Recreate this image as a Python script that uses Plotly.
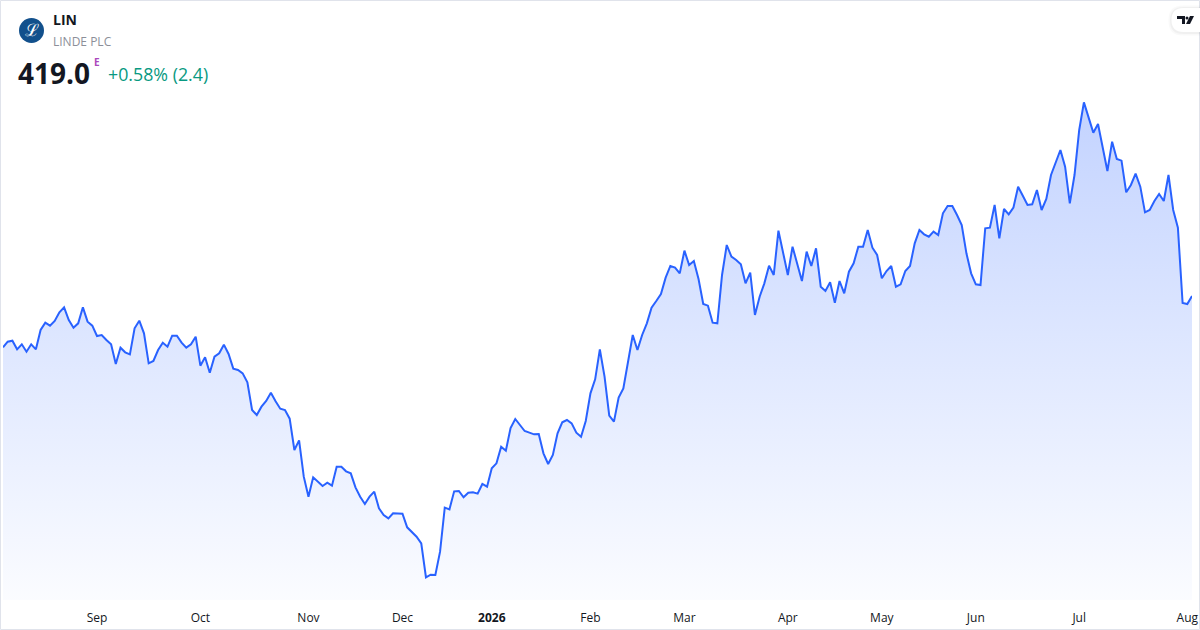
import plotly.graph_objects as go

# ---- data ----
prices = [
    403.6, 405.3, 405.6, 403.0, 404.5, 402.3, 404.5, 403.0, 408.8, 411.0,
    410.1, 411.5, 414.1, 415.6, 411.8, 409.5, 410.8, 415.6, 411.3, 410.1,
    407.0, 407.3, 405.8, 404.5, 398.6, 403.5, 402.1, 401.5, 409.3, 411.6,
    407.8, 398.8, 399.5, 402.8, 405.0, 403.8, 407.1, 407.1, 405.0, 403.5,
    404.5, 406.8, 398.1,
    400.6, 396.0, 400.8, 401.8, 404.4, 401.6, 397.2, 396.8, 395.8, 393.1,
    384.8, 383.3, 385.8, 387.5, 390.0, 387.4, 385.2, 384.8, 382.2, 372.8,
    375.7, 364.8, 358.8, 364.6, 363.3, 362.0, 363.0, 362.1, 367.8, 367.8,
    366.4, 365.8, 361.6, 358.8, 356.6, 358.8, 360.3, 355.3, 353.3, 352.3,
    353.8, 353.7, 353.7,
    349.6, 348.3, 346.8, 344.8, 334.6, 335.4, 335.3, 342.3, 355.5, 355.0,
    360.4, 360.5, 358.6, 360.0, 360.1, 359.7, 362.6, 361.8, 367.3, 368.8,
    373.8, 372.6, 379.4, 382.1, 380.3, 378.5, 378.0, 377.5, 377.6, 371.8,
    368.6, 371.3, 377.8, 381.1, 381.8, 380.8, 378.0, 376.8, 381.5, 389.8,
    394.0, 403.0, 394.8,
    383.1, 381.3, 388.5, 391.3, 399.3, 407.3, 402.8, 407.3, 410.8, 415.5,
    417.5, 419.6, 424.5, 428.0, 427.5, 425.8, 432.6, 428.3, 429.5, 424.1,
    416.6, 416.1, 411.0, 410.8, 425.3, 434.3, 430.8, 429.8, 428.5, 422.8,
    426.0, 413.3, 418.8, 422.8, 428.1, 425.3, 438.6, 431.8, 425.3, 433.8,
    428.8, 423.5,
    432.3, 428.0, 433.3, 421.8, 420.5, 423.1, 417.0, 423.5, 419.8, 426.3,
    428.8, 433.8, 433.8, 438.8, 433.5, 431.3, 424.3, 426.5, 428.0, 421.8,
    422.5, 426.5, 428.0, 434.8, 438.8, 437.5, 436.8, 438.3, 437.3, 443.8,
    446.0, 446.0, 443.3, 440.3, 431.8, 425.8, 422.5, 422.3, 439.3, 439.5,
    446.3, 436.3, 445.1,
    443.5, 445.5, 451.8, 449.1, 446.3, 446.5, 450.8, 444.8, 448.1, 455.3,
    459.3, 462.8, 457.8, 446.8, 455.3, 468.8, 477.1, 472.5, 468.0, 470.6,
    463.8, 456.5, 465.3, 460.1, 459.6, 450.1, 452.3, 455.7, 451.8, 444.1,
    444.8, 447.5, 449.6, 447.5, 455.3, 444.8, 439.5, 416.9, 416.6, 419.0,
]
day_index = list(range(len(prices)))

# first trading session of each month (index into prices) and its label
month_start_index = [20, 42, 65, 85, 104, 125, 145, 167, 187, 207, 229, 252]
month_labels = ["Sep", "Oct", "Nov", "Dec", "<b>2026</b>", "Feb", "Mar",
                "Apr", "May", "Jun", "Jul", "Aug"]

ticker = "LIN"
company = "LINDE PLC"
last_price = "419.0"
change_text = "+0.58% (2.4)"

# ---- layout geometry ----
W, H = 1200, 630
ML, MR, MT, MB = 3, 8, 0, 30
PW, PH = W - ML - MR, H - MT - MB


def px(x):
    return (x - ML) / PW


def py(y):
    return (H - MB - y) / PH


def rounded_left_tab(x0, y0, x1, y1, r):
    return (f"M {px(x1)},{py(y0)} L {px(x0 + r)},{py(y0)} "
            f"Q {px(x0)},{py(y0)} {px(x0)},{py(y0 + r)} "
            f"L {px(x0)},{py(y1 - r)} Q {px(x0)},{py(y1)} {px(x0 + r)},{py(y1)} "
            f"L {px(x1)},{py(y1)} Z")


LINE = "#2962FF"
y_lo, y_hi = 327.8, 507.8

fig = go.Figure()
fig.add_trace(go.Scatter(
    x=day_index, y=prices, mode="lines",
    line=dict(color=LINE, width=2),
    fill="tozeroy",
    fillgradient=dict(
        type="vertical",
        start=y_lo, stop=max(prices),
        colorscale=[[0, "rgba(41,98,255,0.02)"], [1, "rgba(41,98,255,0.28)"]],
    ),
    hoverinfo="skip", showlegend=False,
))

shapes = []
# card border
shapes.append(dict(type="rect", xref="paper", yref="paper",
                   x0=px(0.5), x1=px(1199.5), y0=py(629.5), y1=py(0.5),
                   line=dict(color="#E0E3EB", width=1), fillcolor="rgba(0,0,0,0)",
                   layer="above"))
# logo circle
shapes.append(dict(type="circle", xref="paper", yref="paper",
                   x0=px(19), x1=px(44), y0=py(43), y1=py(18),
                   line=dict(width=0), fillcolor="#12508C", layer="above"))
# TradingView tab (soft shadow + white pill)
shapes.append(dict(type="path", xref="paper", yref="paper", layer="above",
                   path=rounded_left_tab(1168.5, 5.5, 1200, 35.5, 14),
                   fillcolor="rgba(0,0,0,0.025)", line=dict(width=0)))
shapes.append(dict(type="path", xref="paper", yref="paper", layer="above",
                   path=rounded_left_tab(1170, 7, 1200, 34, 13),
                   fillcolor="rgba(0,0,0,0.035)", line=dict(width=0)))
shapes.append(dict(type="path", xref="paper", yref="paper", layer="above",
                   path=rounded_left_tab(1171.5, 8, 1200, 32, 12),
                   fillcolor="white", line=dict(width=0)))
# TV glyph: T bar + stem, dot, slash
shapes.append(dict(type="path", xref="paper", yref="paper", layer="above",
                   path=f"M {px(1177)},{py(16)} L {px(1185)},{py(16)} L {px(1185)},{py(24)} "
                        f"L {px(1182)},{py(24)} L {px(1182)},{py(19)} L {px(1177)},{py(19)} Z",
                   fillcolor="#131722", line=dict(width=0)))
shapes.append(dict(type="circle", xref="paper", yref="paper", layer="above",
                   x0=px(1185.5), x1=px(1188.5), y0=py(19.5), y1=py(16.5),
                   fillcolor="#131722", line=dict(width=0)))
shapes.append(dict(type="path", xref="paper", yref="paper", layer="above",
                   path=f"M {px(1190)},{py(16)} L {px(1194)},{py(16)} L {px(1190)},{py(24)} "
                        f"L {px(1186)},{py(24)} Z",
                   fillcolor="#131722", line=dict(width=0)))

FONT = "Open Sans, Roboto, sans-serif"
annotations = [
    dict(text="ℒ", x=px(31.5), y=py(30.5), xref="paper", yref="paper",
         showarrow=False, font=dict(family="DejaVu Serif", size=17, color="white"),
         xanchor="center", yanchor="middle"),
    dict(text=f"<b>{ticker}</b>", x=px(51), y=py(20), xref="paper", yref="paper",
         showarrow=False, font=dict(family=FONT, size=14, color="#131722"),
         xanchor="left", yanchor="middle"),
    dict(text=company, x=px(51), y=py(41), xref="paper", yref="paper",
         showarrow=False, font=dict(family=FONT, size=12, color="#8C8F99"),
         xanchor="left", yanchor="middle"),
    dict(text=f"<b>{last_price}</b>", x=px(16), y=py(73), xref="paper", yref="paper",
         showarrow=False, font=dict(family=FONT, size=28, color="#131722"),
         xanchor="left", yanchor="middle"),
    dict(text="<b>E</b>", x=px(92), y=py(62), xref="paper", yref="paper",
         showarrow=False, font=dict(family=FONT, size=10, color="#AB47BC"),
         xanchor="left", yanchor="middle"),
    dict(text=change_text, x=px(106), y=py(74), xref="paper", yref="paper",
         showarrow=False, font=dict(family=FONT, size=17.8, color="#089981"),
         xanchor="left", yanchor="middle"),
]

fig.update_layout(
    width=W, height=H,
    margin=dict(l=ML, r=MR, t=MT, b=MB),
    paper_bgcolor="white", plot_bgcolor="white",
    shapes=shapes, annotations=annotations,
    font=dict(family=FONT, color="#131722"),
    xaxis=dict(range=[0, len(prices) - 1], showgrid=False, zeroline=False,
               showline=False, ticks="", tickmode="array",
               tickvals=month_start_index, ticktext=month_labels,
               tickfont=dict(family=FONT, size=12, color="#131722"),
               ticklabelstandoff=9, fixedrange=True),
    yaxis=dict(range=[y_lo, y_hi], visible=False, fixedrange=True),
    hovermode=False,
)

fig.write_html("out.html", config={"displayModeBar": False},
               post_script="document.body.style.margin='0';")
